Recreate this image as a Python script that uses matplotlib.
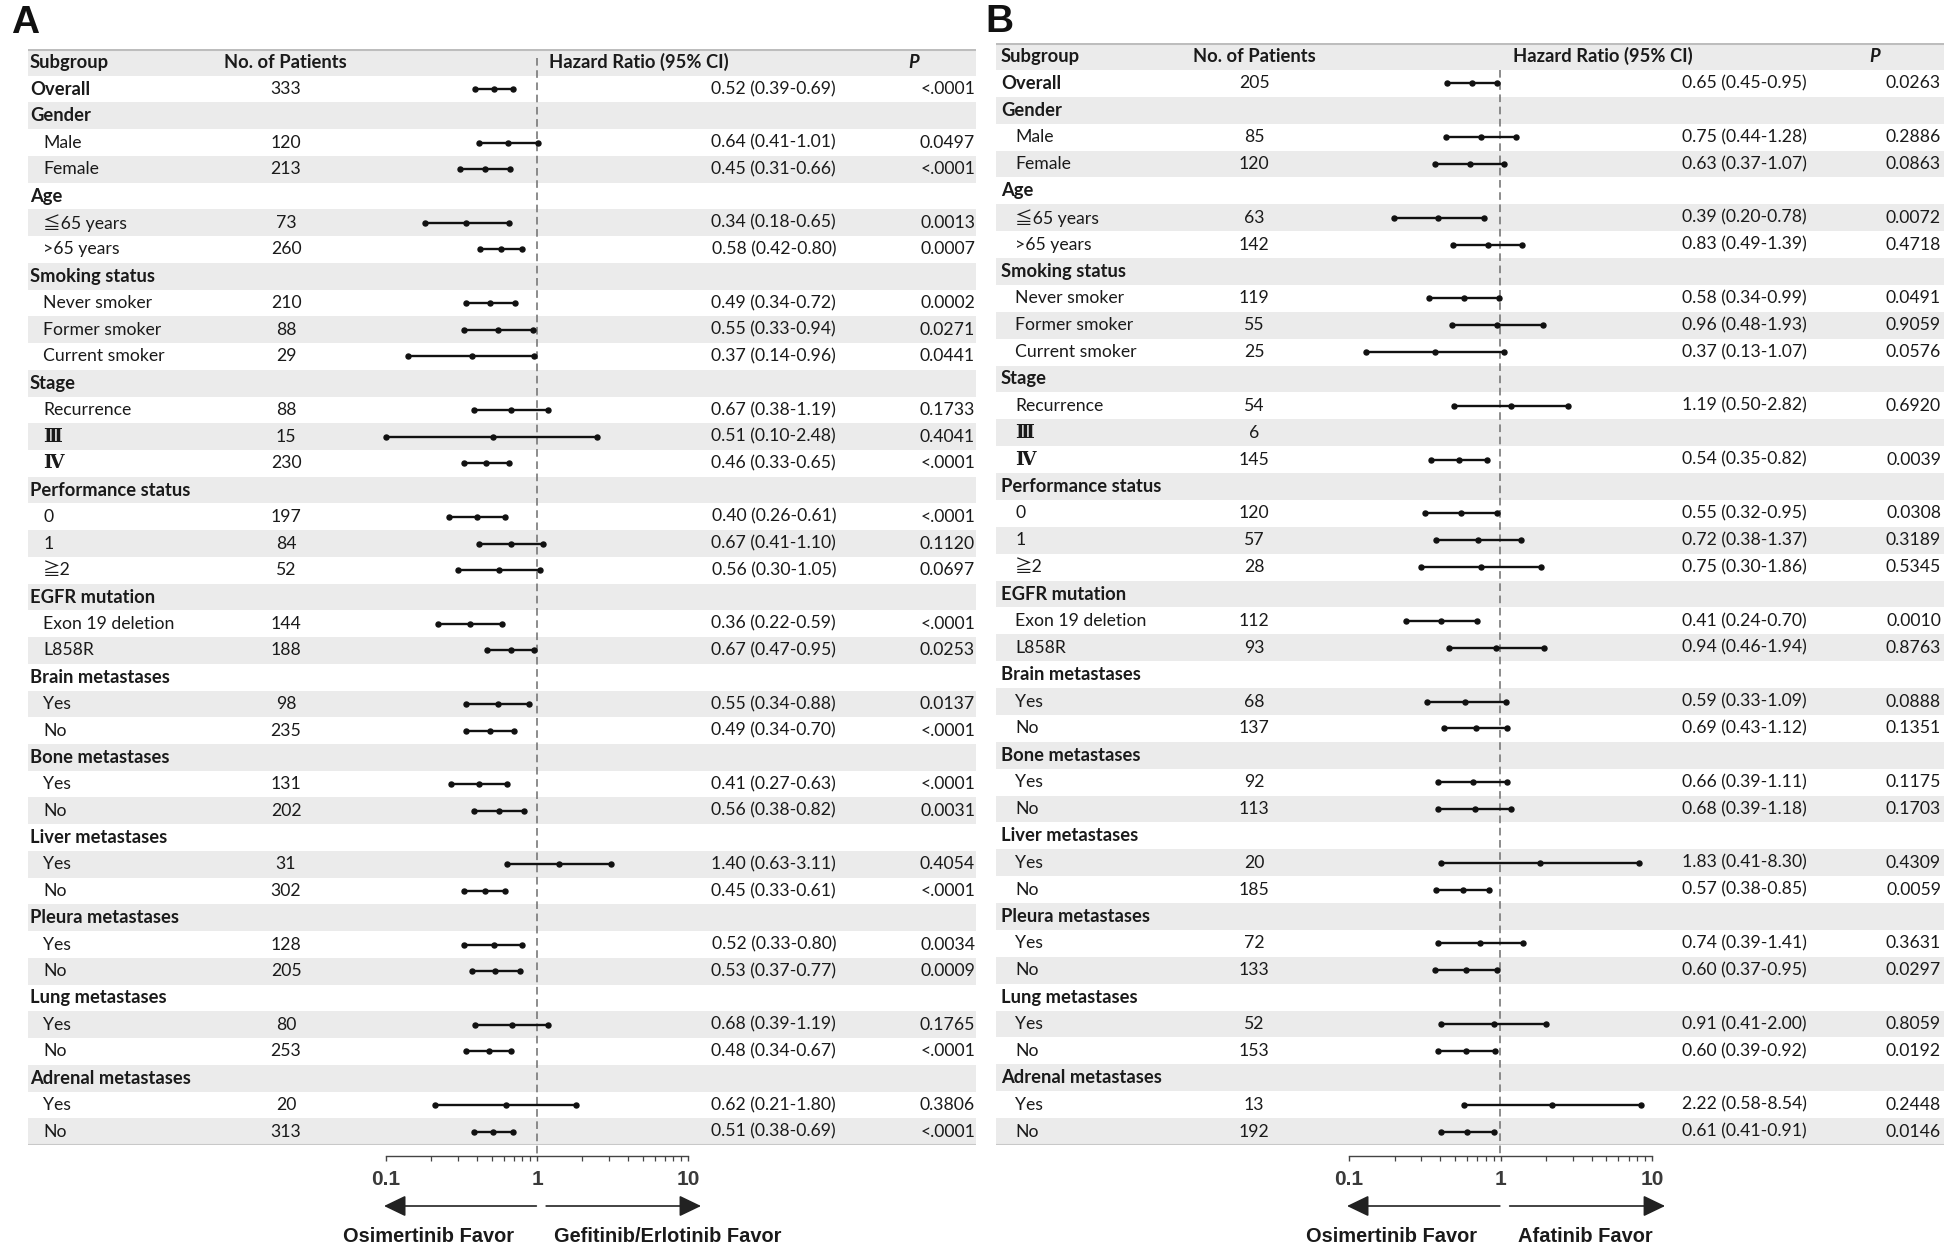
import matplotlib
matplotlib.use("Agg")
import matplotlib.pyplot as plt
from matplotlib.transforms import blended_transform_factory

plt.rcParams["font.family"] = ["Lato", "Noto Sans CJK SC", "DejaVu Sans"]

# Subgroup rows (shared by both panels)
labels = [
    "Overall", "Gender", "Male", "Female", "Age", "≦65 years", ">65 years",
    "Smoking status", "Never smoker", "Former smoker", "Current smoker",
    "Stage", "Recurrence", "Ⅲ", "Ⅳ", "Performance status", "0", "1", "≧2",
    "EGFR mutation", "Exon 19 deletion", "L858R",
    "Brain metastases", "Yes", "No", "Bone metastases", "Yes", "No",
    "Liver metastases", "Yes", "No", "Pleura metastases", "Yes", "No",
    "Lung metastases", "Yes", "No", "Adrenal metastases", "Yes", "No",
]
group_rows = [
    "Overall", "Gender", "Age", "Smoking status", "Stage", "Performance status",
    "EGFR mutation", "Brain metastases", "Bone metastases", "Liver metastases",
    "Pleura metastases", "Lung metastases", "Adrenal metastases",
]
roman_rows = ["Ⅲ", "Ⅳ"]

# Panel A: Osimertinib vs Gefitinib/Erlotinib
n_a = [333, None, 120, 213, None, 73, 260, None, 210, 88, 29, None, 88, 15, 230,
       None, 197, 84, 52, None, 144, 188, None, 98, 235, None, 131, 202,
       None, 31, 302, None, 128, 205, None, 80, 253, None, 20, 313]
hr_a = [0.52, None, 0.64, 0.45, None, 0.34, 0.58, None, 0.49, 0.55, 0.37, None,
        0.67, 0.51, 0.46, None, 0.40, 0.67, 0.56, None, 0.36, 0.67, None, 0.55,
        0.49, None, 0.41, 0.56, None, 1.40, 0.45, None, 0.52, 0.53, None, 0.68,
        0.48, None, 0.62, 0.51]
lo_a = [0.39, None, 0.41, 0.31, None, 0.18, 0.42, None, 0.34, 0.33, 0.14, None,
        0.38, 0.10, 0.33, None, 0.26, 0.41, 0.30, None, 0.22, 0.47, None, 0.34,
        0.34, None, 0.27, 0.38, None, 0.63, 0.33, None, 0.33, 0.37, None, 0.39,
        0.34, None, 0.21, 0.38]
hi_a = [0.69, None, 1.01, 0.66, None, 0.65, 0.80, None, 0.72, 0.94, 0.96, None,
        1.19, 2.48, 0.65, None, 0.61, 1.10, 1.05, None, 0.59, 0.95, None, 0.88,
        0.70, None, 0.63, 0.82, None, 3.11, 0.61, None, 0.80, 0.77, None, 1.19,
        0.67, None, 1.80, 0.69]
p_a = ["<.0001", "", "0.0497", "<.0001", "", "0.0013", "0.0007", "", "0.0002",
       "0.0271", "0.0441", "", "0.1733", "0.4041", "<.0001", "", "<.0001",
       "0.1120", "0.0697", "", "<.0001", "0.0253", "", "0.0137", "<.0001", "",
       "<.0001", "0.0031", "", "0.4054", "<.0001", "", "0.0034", "0.0009", "",
       "0.1765", "<.0001", "", "0.3806", "<.0001"]

# Panel B: Osimertinib vs Afatinib
n_b = [205, None, 85, 120, None, 63, 142, None, 119, 55, 25, None, 54, 6, 145,
       None, 120, 57, 28, None, 112, 93, None, 68, 137, None, 92, 113,
       None, 20, 185, None, 72, 133, None, 52, 153, None, 13, 192]
hr_b = [0.65, None, 0.75, 0.63, None, 0.39, 0.83, None, 0.58, 0.96, 0.37, None,
        1.19, None, 0.54, None, 0.55, 0.72, 0.75, None, 0.41, 0.94, None, 0.59,
        0.69, None, 0.66, 0.68, None, 1.83, 0.57, None, 0.74, 0.60, None, 0.91,
        0.60, None, 2.22, 0.61]
lo_b = [0.45, None, 0.44, 0.37, None, 0.20, 0.49, None, 0.34, 0.48, 0.13, None,
        0.50, None, 0.35, None, 0.32, 0.38, 0.30, None, 0.24, 0.46, None, 0.33,
        0.43, None, 0.39, 0.39, None, 0.41, 0.38, None, 0.39, 0.37, None, 0.41,
        0.39, None, 0.58, 0.41]
hi_b = [0.95, None, 1.28, 1.07, None, 0.78, 1.39, None, 0.99, 1.93, 1.07, None,
        2.82, None, 0.82, None, 0.95, 1.37, 1.86, None, 0.70, 1.94, None, 1.09,
        1.12, None, 1.11, 1.18, None, 8.30, 0.85, None, 1.41, 0.95, None, 2.00,
        0.92, None, 8.54, 0.91]
p_b = ["0.0263", "", "0.2886", "0.0863", "", "0.0072", "0.4718", "", "0.0491",
       "0.9059", "0.0576", "", "0.6920", "", "0.0039", "", "0.0308", "0.3189",
       "0.5345", "", "0.0010", "0.8763", "", "0.0888", "0.1351", "", "0.1175",
       "0.1703", "", "0.4309", "0.0059", "", "0.3631", "0.0297", "", "0.8059",
       "0.0192", "", "0.2448", "0.0146"]

W, H = 1944, 1249
BAND = "#ebebeb"
TXT = "#1a1a1a"
FS = 12.7
FSB = 13.2
AXFONT = "Liberation Sans"

fig = plt.figure(figsize=(W / 100, H / 100), dpi=100)


def fx(px):
    return px / W


def fy(py):
    return 1 - py / H


def draw_panel(letter, n, hr, lo, hi, p, favor_right, geo):
    left, right = geo["left"], geo["right"]
    top, bottom = geo["top"], geo["bottom"]
    x01, x1, x10 = geo["x01"], geo["x1"], geo["x10"]
    dec = (x10 - x01) / 2.0
    nrows = len(labels) + 1
    row_px = (bottom - top) / nrows

    ax = fig.add_axes([fx(left), fy(bottom), fx(right) - fx(left), (bottom - top) / H])
    ax.set_xscale("log")
    ax.set_xlim(10 ** ((left - x1) / dec), 10 ** ((right - x1) / dec))
    ax.set_ylim(nrows - 0.5, -0.5)
    ax.axis("off")

    for y in range(0, nrows, 2):
        ax.axhspan(y - 0.5, y + 0.5, color=BAND, lw=0, zorder=0)
    ax.axhline(-0.5, color="#bdbdbd", lw=2.2, zorder=1)
    ax.axhline(nrows - 0.5, color="#c8c8c8", lw=1.5, zorder=1)

    tr = blended_transform_factory(fig.transFigure, ax.transData)

    # header row
    ax.text(fx(geo["sub_x"]), 0, "Subgroup", transform=tr, fontsize=FSB,
            fontweight="bold", va="center", color=TXT)
    ax.text(fx(geo["n_hdr"]), 0, "No. of Patients", transform=tr, fontsize=FSB,
            fontweight="bold", va="center", color=TXT)
    ax.text(fx(geo["hr_hdr"]), 0, "Hazard Ratio (95% CI)", transform=tr,
            fontsize=FSB, fontweight="bold", va="center", color=TXT)
    ax.text(fx(geo["p_hdr"]), 0, "P", transform=tr, fontsize=FSB,
            fontweight="bold", style="italic", va="center", color=TXT)

    # dashed reference line at HR = 1, down to the scale axis
    dash_end = nrows - 0.5 + (geo["axis_y"] - bottom) / row_px
    ax.plot([1, 1], [geo["dash_start"], dash_end],
            color="#6e6e6e", lw=1.1, ls=(0, (5, 3)), clip_on=False, zorder=2)

    for i, lab in enumerate(labels):
        y = i + 1
        if lab in group_rows:
            ax.text(fx(geo["sub_x"]), y, lab, transform=tr, fontsize=FSB,
                    fontweight="bold", va="center", color=TXT)
        elif lab in roman_rows:
            ax.text(fx(geo["ind_x"]), y, lab, transform=tr, fontsize=FS + 0.8,
                    va="center", color=TXT, family="DejaVu Serif",
                    fontweight="bold")
        else:
            ax.text(fx(geo["ind_x"]), y, lab, transform=tr, fontsize=FS,
                    va="center", color=TXT)
        if n[i] is not None:
            ax.text(fx(geo["n_x"]), y, str(n[i]), transform=tr, fontsize=FS,
                    ha="center", va="center", color=TXT)
        if hr[i] is not None:
            ax.plot([lo[i], hi[i]], [y, y], color="#111111", lw=1.7, zorder=3,
                    solid_capstyle="butt")
            ax.plot([lo[i], hr[i], hi[i]], [y, y, y], "o", color="#111111",
                    ms=3.6, zorder=4)
            ax.text(fx(geo["hr_x"]), y,
                    "{:.2f} ({:.2f}-{:.2f})".format(hr[i], lo[i], hi[i]),
                    transform=tr, fontsize=FS, ha="right", va="center", color=TXT)
        if p[i]:
            ax.text(fx(geo["p_x"]), y, p[i], transform=tr, fontsize=FS,
                    ha="right", va="center", color=TXT)

    # log scale axis under the table
    axs = fig.add_axes([fx(x01), fy(geo["axis_y"]), fx(x10) - fx(x01), 0.0001])
    axs.set_xscale("log")
    axs.set_xlim(0.1, 10)
    axs.set_yticks([])
    for s in ["top", "left", "right"]:
        axs.spines[s].set_visible(False)
    axs.spines["bottom"].set_color("#444444")
    axs.spines["bottom"].set_linewidth(1.0)
    axs.patch.set_alpha(0)
    axs.set_xticks([0.1, 1, 10])
    axs.set_xticklabels(["0.1", "1", "10"])
    axs.tick_params(axis="x", which="major", length=3.5, width=1.0,
                    color="#444444", pad=6.5, labelsize=15, labelcolor="#3a3a3a")
    axs.tick_params(axis="x", which="minor", length=3.5, width=0.9,
                    color="#444444")
    for t in axs.get_xticklabels():
        t.set_fontfamily(AXFONT)
        t.set_fontweight("bold")

    btr = blended_transform_factory(axs.transData, fig.transFigure)
    ay = fy(geo["arrow_y"])
    arrow = dict(arrowstyle="-|>,head_length=1.35,head_width=0.65",
                 color="#222222", lw=1.2, shrinkA=0, shrinkB=0)
    axs.annotate("", xy=(0.097, ay), xytext=(0.99, ay), xycoords=btr,
                 textcoords=btr, arrowprops=arrow)
    axs.annotate("", xy=(12.2, ay), xytext=(1.15, ay), xycoords=btr,
                 textcoords=btr, arrowprops=arrow)
    ly = fy(geo["favor_y"])
    axs.text(0.70, ly, "Osimertinib Favor", transform=btr, ha="right",
             va="center", fontsize=14.4, fontweight="bold", color="#1a1a1a",
             family=AXFONT)
    axs.text(1.30, ly, favor_right, transform=btr, ha="left", va="center",
             fontsize=14.4, fontweight="bold", color="#1a1a1a",
             family=AXFONT)

    fig.text(fx(geo["letter_x"]), fy(geo["letter_y"]), letter, fontsize=28,
             fontweight="bold", va="center", ha="left", color="#111111",
             family=AXFONT)


geo_a = dict(left=28, right=976, top=49, bottom=1145, x01=386, x1=537, x10=688,
             sub_x=30, ind_x=43, n_hdr=224, n_x=286, hr_hdr=549, hr_x=836,
             p_hdr=908, p_x=975, dash_start=-0.15, axis_y=1156,
             arrow_y=1206, favor_y=1237, letter_x=11, letter_y=23)
geo_b = dict(left=996, right=1944, top=43, bottom=1145, x01=1349, x1=1500,
             x10=1652, sub_x=1001, ind_x=1015, n_hdr=1193, n_x=1254,
             hr_hdr=1513, hr_x=1807, p_hdr=1869, p_x=1941, dash_start=0.5,
             axis_y=1156, arrow_y=1206, favor_y=1237,
             letter_x=985, letter_y=22)

draw_panel("A", n_a, hr_a, lo_a, hi_a, p_a, "Gefitinib/Erlotinib Favor", geo_a)
draw_panel("B", n_b, hr_b, lo_b, hi_b, p_b, "Afatinib Favor", geo_b)

fig.savefig("out.png", dpi=100, facecolor="white")
